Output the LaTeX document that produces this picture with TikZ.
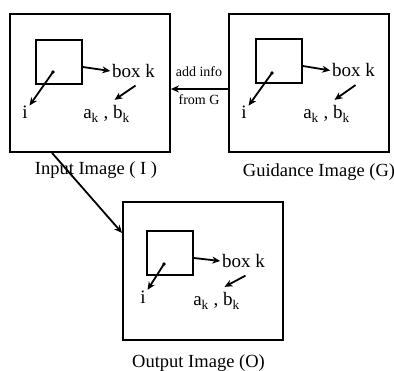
\documentclass[tikz,border=0pt]{standalone}
\usepackage{fontspec}
\setmainfont{Liberation Serif}
\usetikzlibrary{arrows.meta,positioning}

\begin{document}
\begin{tikzpicture}[x=1pt,y=-1pt,>={Stealth[length=8pt,width=7pt]},line width=1.8pt,
    img node/.style={draw,rectangle,minimum width=160pt,minimum height=138pt,inner sep=0pt},
    win node/.style={draw,rectangle,minimum width=46pt,minimum height=44pt,inner sep=0pt},
    txt node/.style={inner sep=1pt,font=\fontsize{19}{21}\selectfont},
    label node/.style={inner sep=1pt,font=\fontsize{18.5}{20}\selectfont},
    small node/.style={inner sep=1pt,font=\fontsize{14}{16}\selectfont},
    arr/.style={->,line width=1.8pt}]
\useasboundingbox (0,0) rectangle (394,371);

% input image
\begin{scope}[shift={(90,83)}]
    \node[img node] (in) at (0,0) {};
    \node[win node] (inwin) at (-31,-21) {};
    \coordinate (inpix) at (-37,-11);
    \node[txt node] (inbox) at (43.5,-12) {box k};
    \node[txt node] (inab) at (16.5,31) {a\textsubscript{k} , b\textsubscript{k}};
    \node[txt node] (ini) at (-65,29) {i};
\end{scope}
\node[label node] (inlabel) [below=7pt of in, xshift=6pt] {Input Image ( I )};

% guidance image
\begin{scope}[shift={(309,83)}]
    \node[img node] (gd) at (0,0) {};
    \node[win node] (gdwin) at (-30,-22) {};
    \coordinate (gdpix) at (-37,-10);
    \node[txt node] (gdbox) at (44.5,-12.5) {box k};
    \node[txt node] (gdab) at (17.5,31) {a\textsubscript{k} , b\textsubscript{k}};
    \node[txt node] (gdi) at (-65,29) {i};
\end{scope}
\node[label node] (gdlabel) [below=9pt of gd, xshift=10pt] {Guidance Image (G)};

% output image
\begin{scope}[shift={(203,271)}]
    \node[img node] (out) at (0,0) {};
    \node[win node] (outwin) at (-33,-18) {};
    \coordinate (outpix) at (-39,-7);
    \node[txt node] (outbox) at (40.5,-10) {box k};
    \node[txt node] (outab) at (13.5,30) {a\textsubscript{k} , b\textsubscript{k}};
    \node[txt node] (outi) at (-60,26) {i};
\end{scope}
\node[label node] (outlabel) [below=12pt of out, xshift=-4.5pt] {Output Image (O)};

% pixels and windows
\foreach \p in {inpix,gdpix,outpix}
    \fill (\p) circle (1.8pt);
\draw[arr] (inpix) -- (ini);
\draw[arr] ([yshift=-5pt]inwin.east) -- (inbox.west);
\draw[arr] ([shift={(2pt,-6pt)}]inbox.south) -- ([shift={(8pt,4pt)}]inab.north);
\draw[arr] (gdpix) -- (gdi);
\draw[arr] ([yshift=-5pt]gdwin.east) -- (gdbox.west);
\draw[arr] ([shift={(2pt,-6pt)}]gdbox.south) -- ([shift={(8pt,4pt)}]gdab.north);
\draw[arr] (outpix) -- (outi);
\draw[arr] ([yshift=-5pt]outwin.east) -- (outbox.west);
\draw[arr] ([shift={(2pt,-6pt)}]outbox.south) -- ([shift={(8pt,4pt)}]outab.north);

% between images
\draw[arr] ([yshift=-6pt]gd.west) -- ([yshift=-6pt]in.east);
\node[small node] (addinfo) at (199,72) {add info};
\node[small node] (fromg) at (199,100) {from G};
\draw[arr] ([xshift=-38pt]in.south) -- ([yshift=38pt]out.west);
\end{tikzpicture}
\end{document}
